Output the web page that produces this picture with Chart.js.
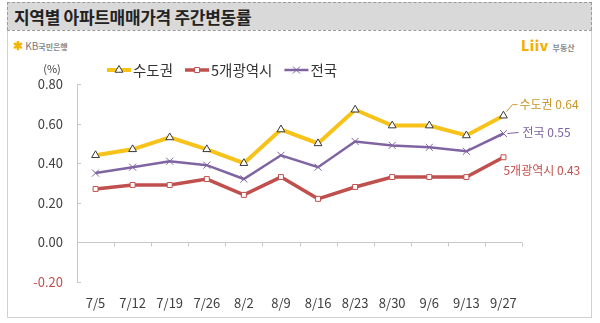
<!DOCTYPE html>
<html>
<head>
<meta charset="utf-8">
<script src="https://cdn.jsdelivr.net/npm/chart.js@4"></script>
<style>
  body { margin: 0; background: #fff; font-family: 'Noto Sans CJK KR', 'Noto Sans', sans-serif; }
  #wrap { position: relative; width: 600px; height: 323px; overflow: hidden; }
  #titlebar { position: absolute; left: 7px; top: 2px; width: 583px; height: 27px; background: #d9d9d9; border: 1px dashed #9a9a9a; border-bottom: none; }
  #titlebar span { position: absolute; left: 6px; top: 1px; font-size: 17px; font-weight: bold; color: #222; letter-spacing: -0.3px; }
  #box { position: absolute; left: 7px; top: 30px; width: 583px; height: 286px; border: 1px solid #d0d0d0; border-top: 1px dashed #9a9a9a; }
  #kb { position: absolute; left: 13px; top: 36px; font-size: 10px; color: #777; }
  #kb b { color: #f2b600; font-size: 12px; }
  #kb small { font-size: 8px; font-weight: bold; color: #888; }
  #liiv { position: absolute; left: 521px; top: 35px; font-size: 14px; font-weight: 900; color: #f2b000; letter-spacing: 0.5px; }
  #liiv small { font-size: 8px; font-weight: bold; color: #888; letter-spacing: 0; }
  canvas { position: absolute; left: 0; top: 0; }
</style>
</head>
<body>
<div id="wrap">
  <div id="titlebar"><span>지역별 아파트매매가격 주간변동률</span></div>
  <div id="box"></div>
  <div id="kb"><b>✱</b> KB<small>국민은행</small></div>
  <div id="liiv">Liiv <small>부동산</small></div>
  <canvas id="chart" width="600" height="323"></canvas>
</div>
<script>
// 주간변동률 (%)
const weeks = ['7/5', '7/12', '7/19', '7/26', '8/2', '8/9', '8/16', '8/23', '8/30', '9/6', '9/13', '9/27'];
const capital = [0.44, 0.47, 0.53, 0.47, 0.40, 0.57, 0.50, 0.67, 0.59, 0.59, 0.54, 0.64];
const metro5 = [0.27, 0.29, 0.29, 0.32, 0.24, 0.33, 0.22, 0.28, 0.33, 0.33, 0.33, 0.43];
const nation = [0.35, 0.38, 0.41, 0.39, 0.32, 0.44, 0.38, 0.51, 0.49, 0.48, 0.46, 0.55];
const yMin = -0.2, yMax = 0.8, yStep = 0.2;

const FONT = "'Noto Sans CJK KR', 'Noto Sans', sans-serif";
const endColors = ['#c9962a', '#c0504d', '#7f62a3'];

const extras = {
  id: 'extras',
  afterDraw(chart) {
    const c = chart.ctx, area = chart.chartArea;
    const ys = chart.scales.y;
    c.save();
    // y tick marks
    c.strokeStyle = '#c8c8c8'; c.lineWidth = 1;
    ys.ticks.forEach(t => {
      const y = Math.round(ys.getPixelForValue(t.value)) + 0.5;
      c.beginPath(); c.moveTo(area.left, y); c.lineTo(area.left + 4, y); c.stroke();
    });
    // x tick marks on zero line
    const y0 = Math.round(ys.getPixelForValue(0)) + 0.5;
    const step = (area.right - area.left) / weeks.length;
    for (let i = 1; i <= weeks.length; i++) {
      const x = Math.round(area.left + i * step) + 0.5;
      c.beginPath(); c.moveTo(x, y0); c.lineTo(x, y0 + 4); c.stroke();
    }
    // unit
    c.fillStyle = '#404040'; c.font = '11px ' + FONT;
    c.textAlign = 'center'; c.textBaseline = 'middle';
    c.fillText('(%)', 52, 69);

    // legend
    let lx = 107;
    const ly = 70;
    c.font = '14.5px ' + FONT; c.textAlign = 'left';
    chart.data.datasets.forEach(ds => {
      c.strokeStyle = ds.borderColor; c.lineWidth = ds.borderWidth;
      c.beginPath(); c.moveTo(lx, ly); c.lineTo(lx + 24, ly); c.stroke();
      c.fillStyle = ds.pointBackgroundColor; c.strokeStyle = ds.pointBorderColor; c.lineWidth = 1;
      Chart.helpers.drawPoint(c, {pointStyle: ds.pointStyle, radius: ds.pointRadius, borderWidth: 1, rotation: 0}, lx + 12, ly);
      c.fillStyle = '#333';
      c.fillText(ds.label, lx + 26, ly);
      lx += 26 + c.measureText(ds.label).width + 12;
    });

    // end labels
    c.font = '12px ' + FONT;
    chart.data.datasets.forEach((ds, i) => {
      const pts = chart.getDatasetMeta(i).data;
      const p = pts[pts.length - 1];
      const txt = ds.label + ' ' + ds.data[ds.data.length - 1].toFixed(2);
      c.fillStyle = endColors[i]; c.strokeStyle = endColors[i]; c.lineWidth = 1;
      if (i === 0) {
        c.beginPath(); c.moveTo(p.x + 3, p.y - 4); c.lineTo(p.x + 9, p.y - 11); c.lineTo(p.x + 14, p.y - 11); c.stroke();
        c.fillText(txt, p.x + 16, p.y - 11);
      } else if (i === 2) {
        c.beginPath(); c.moveTo(p.x + 4, p.y); c.lineTo(p.x + 15, p.y - 1); c.stroke();
        c.fillText(txt, p.x + 19, p.y - 1);
      } else {
        c.fillText(txt, p.x, p.y + 13);
      }
    });
    c.restore();
  }
};

new Chart(document.getElementById('chart'), {
  type: 'line',
  data: {
    labels: weeks,
    datasets: [
      {
        label: '수도권',
        data: capital,
        borderColor: '#f7c21a',
        borderWidth: 4,
        pointStyle: 'triangle',
        pointRadius: 4.5,
        pointBackgroundColor: '#fff',
        pointBorderColor: '#3a3a3a',
        pointBorderWidth: 1
      },
      {
        label: '5개광역시',
        data: metro5,
        borderColor: '#c0504d',
        borderWidth: 3.5,
        pointStyle: 'rect',
        pointRadius: 3.5,
        pointBackgroundColor: '#fff',
        pointBorderColor: '#c0504d',
        pointBorderWidth: 1
      },
      {
        label: '전국',
        data: nation,
        borderColor: '#8064a2',
        borderWidth: 2.5,
        pointStyle: 'crossRot',
        pointRadius: 5,
        pointBackgroundColor: '#8064a2',
        pointBorderColor: '#8064a2',
        pointBorderWidth: 1
      }
    ]
  },
  options: {
    responsive: false,
    animation: false,
    layout: { padding: { top: 84, right: 78, bottom: 6, left: 0 } },
    plugins: {
      legend: { display: false },
      tooltip: { enabled: false }
    },
    scales: {
      x: {
        offset: true,
        grid: { display: false },
        border: { display: false },
        ticks: { color: '#404040', font: { family: FONT, size: 13 }, padding: 5, maxRotation: 0 },
        afterFit: s => { s.height = 35; }
      },
      y: {
        min: yMin,
        max: yMax,
        ticks: {
          stepSize: yStep,
          color: ctx => ctx.tick.value < 0 ? '#c0504d' : '#404040',
          font: { family: FONT, size: 13 },
          padding: 14,
          callback: v => v.toFixed(2)
        },
        grid: {
          drawTicks: false,
          color: ctx => ctx.tick.value === 0 ? '#c8c8c8' : 'transparent'
        },
        border: { color: '#c8c8c8' },
        afterFit: s => { s.width = 77; }
      }
    }
  },
  plugins: [extras]
});
</script>
</body>
</html>
